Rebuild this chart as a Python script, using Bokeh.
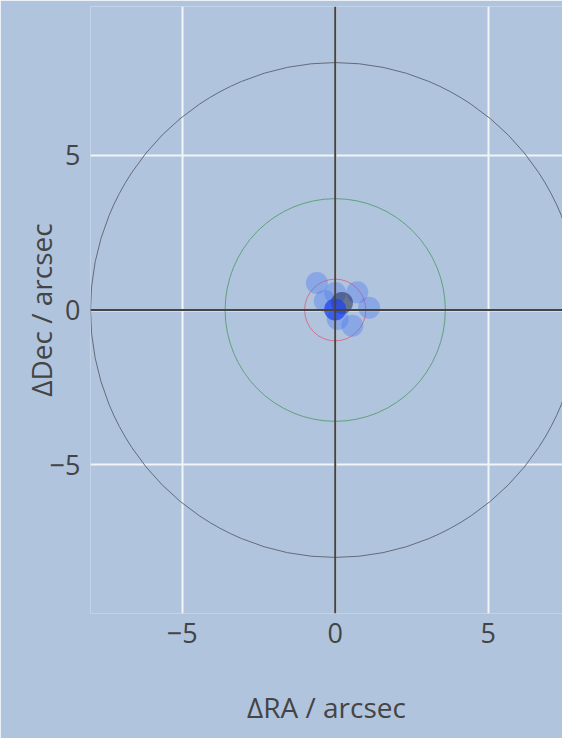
from bokeh.plotting import figure
from bokeh.models import FixedTicker, Span, ColumnDataSource
from bokeh.embed import file_html
from bokeh.resources import INLINE

# ---- data ----
ring_radius = [8.0, 3.6, 1.0]          # arcsec
ring_color = ["#656b78", "#5fa27a", "#d8708c"]
ring_center_x = [0.0, 0.0, 0.0]
ring_center_y = [0.0, 0.0, 0.0]

pt_dra = [-0.60, 0.00, 0.72, 1.11, -0.34, 0.56, 0.08, 0.22, 0.00]
pt_ddec = [0.87, 0.55, 0.57, 0.07, 0.29, -0.51, -0.29, 0.23, 0.02]
pt_color = ["#4a7af0"] * 7 + ["#1a2248", "#2244ee"]
pt_alpha = [0.38] * 7 + [0.5, 0.75]

tick_values = [-5, 0, 5]
tick_labels = {-5: "\u22125", 0: "0", 5: "5"}

BG = "#b0c4de"
FONT = "Open Sans"

p = figure(width=562, height=738, output_backend="svg", toolbar_location=None,
           x_range=(-8.0, 7.43), y_range=(-9.81, 9.81),
           min_border_left=90, min_border_right=0, min_border_top=6,
           min_border_bottom=125)
p.background_fill_color = BG
p.border_fill_color = BG
p.outline_line_color = None

for ax in (p.xaxis[0], p.yaxis[0]):
    ax.ticker = FixedTicker(ticks=tick_values)
    ax.major_label_overrides = tick_labels
    ax.axis_line_color = None
    ax.major_tick_line_color = None
    ax.minor_tick_line_color = None
    ax.major_label_text_font = FONT
    ax.major_label_text_font_size = "27px"
    ax.major_label_text_color = "#444444"
    ax.axis_label_text_font = FONT
    ax.axis_label_text_font_size = "28px"
    ax.axis_label_text_font_style = "normal"
    ax.axis_label_text_color = "#444444"

p.xaxis.axis_label = "\u0394RA / arcsec"
p.yaxis.axis_label = "\u0394Dec / arcsec"
p.xaxis.major_label_standoff = 3
p.xaxis.axis_label_standoff = 42
p.yaxis.major_label_standoff = 4
p.yaxis.axis_label_standoff = -13

for g in (p.xgrid[0], p.ygrid[0]):
    g.ticker = FixedTicker(ticks=tick_values)
    g.grid_line_color = "#f2f4f8"
    g.grid_line_width = 2

p.add_layout(Span(location=0, dimension="height", line_color="#444444", line_width=2))
p.add_layout(Span(location=0, dimension="width", line_color="#444444", line_width=2))

rings = ColumnDataSource(dict(x=ring_center_x, y=ring_center_y,
                              d=[2 * r for r in ring_radius], c=ring_color))
p.ellipse(x="x", y="y", width="d", height="d", source=rings,
          fill_color=None, line_color="c", line_width=1)

pts = ColumnDataSource(dict(x=pt_dra, y=pt_ddec, c=pt_color, a=pt_alpha))
p.scatter(x="x", y="y", source=pts, size=22, fill_color="c", fill_alpha="a",
          line_color=None)

open("out.html", "w").write(file_html(p, INLINE))
